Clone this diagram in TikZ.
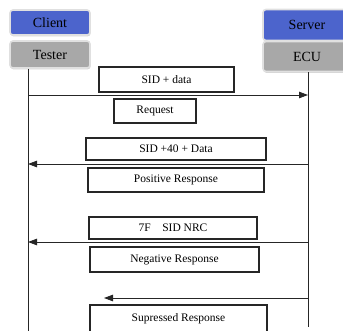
\documentclass[tikz,border=0pt]{standalone}
\usepackage{fontspec}
\setmainfont{Liberation Serif}
\usetikzlibrary{arrows.meta,shadows}

\definecolor{roleblue}{RGB}{76,100,204}
\definecolor{rolegray}{RGB}{168,168,168}

\tikzset{
  role/.style={shape=rectangle,rounded corners=3pt,draw=black!12,line width=1.6pt,
    inner sep=0pt,font=\fontsize{14}{16}\selectfont,
    drop shadow={shadow xshift=0.6pt,shadow yshift=-1.4pt,opacity=0.35}},
  msgbox/.style={shape=rectangle,draw=black!85,line width=1.1pt,inner sep=0pt,
    font=\fontsize{11.5}{13}\selectfont},
  msg/.style={-{Triangle[length=9pt,width=6.5pt]},draw=black!85,line width=0.8pt},
  lifeline/.style={draw=black!85,line width=0.9pt}
}

\begin{document}
\begin{tikzpicture}[x=1pt,y=-1pt]
\useasboundingbox (0,0) rectangle (343,330);

\node[role,fill=roleblue,minimum width=80pt,minimum height=25pt] (client) at (50,22.5) {Client};
\node[role,fill=rolegray,minimum width=80pt,minimum height=27pt] (tester) at (50,54.5) {Tester};
\node[role,fill=roleblue,minimum width=88pt,minimum height=31pt] (server) at (307,25) {Server};
\node[role,fill=rolegray,minimum width=88pt,minimum height=30pt] (ecu) at (307,56.5) {ECU};

\coordinate (cl) at (28,332);
\coordinate (sl) at (308,327);
\path [lifeline] (tester.south -| cl) -- (cl);
\path [lifeline] (ecu.south -| sl) -- (sl);

\coordinate (c1) at (28,95);
\coordinate (s1) at (308,95);
\coordinate (c2) at (28,164);
\coordinate (s2) at (308,164);
\coordinate (c3) at (28,242);
\coordinate (s3) at (308,242);
\coordinate (c4) at (104,298);
\coordinate (s4) at (308,298);

\node[msgbox,minimum width=135pt,minimum height=25pt] (sid) at (166.5,79.5) {SID + data};
\node[msgbox,minimum width=82pt,minimum height=24pt] (req) at (155,111) {Request};
\node[msgbox,minimum width=180pt,minimum height=22pt] (sid40) at (176,149) {SID +40 + Data};
\node[msgbox,minimum width=176pt,minimum height=24pt] (pos) at (176,180) {Positive Response};
\node[msgbox,minimum width=168pt,minimum height=22pt] (nrc) at (173,228) {7F\quad SID NRC};
\node[msgbox,minimum width=169pt,minimum height=25pt] (neg) at (174.5,259.5) {Negative Response};
\node[msgbox,minimum width=177pt,minimum height=28pt] (sup) at (178.5,319) {Supressed Response};

\path [msg] (c1) -- (s1);
\path [msg] (s2) -- (c2);
\path [msg] (s3) -- (c3);
\path [msg] (s4) -- (c4);
\end{tikzpicture}
\end{document}
